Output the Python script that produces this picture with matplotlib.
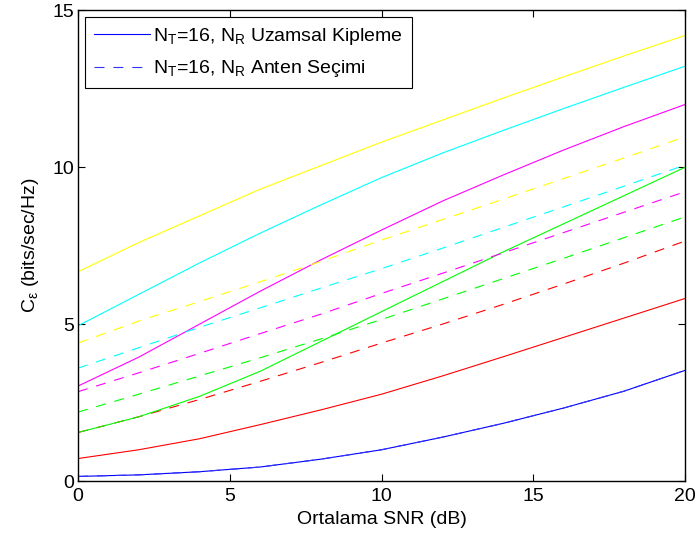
import matplotlib
matplotlib.use('Agg')
import matplotlib.pyplot as plt

plt.rcParams['font.family'] = ['Liberation Sans', 'DejaVu Sans']
plt.rcParams['mathtext.fontset'] = 'custom'
plt.rcParams['mathtext.rm'] = 'Liberation Sans'
plt.rcParams['mathtext.it'] = 'Liberation Sans'

snr = [0, 2, 4, 6, 8, 10, 12, 14, 16, 18, 20]

# Uzamsal Kipleme (duz cizgi)
sm_blue = [0.15, 0.2, 0.3, 0.45, 0.7, 1.0, 1.4, 1.84, 2.33, 2.87, 3.53]
sm_red = [0.72, 1.0, 1.35, 1.8, 2.27, 2.77, 3.35, 3.96, 4.58, 5.2, 5.82]
sm_green = [1.55, 2.05, 2.7, 3.5, 4.45, 5.4, 6.35, 7.3, 8.2, 9.1, 10.0]
sm_magenta = [3.03, 3.95, 5.0, 6.05, 7.05, 8.0, 8.92, 9.75, 10.55, 11.3, 12.0]
sm_cyan = [4.95, 5.95, 6.95, 7.9, 8.8, 9.67, 10.45, 11.17, 11.87, 12.55, 13.22]
sm_yellow = [6.67, 7.6, 8.45, 9.3, 10.05, 10.8, 11.5, 12.2, 12.88, 13.55, 14.2]

# Anten Secimi (kesikli cizgi)
as_blue = [0.15, 0.2, 0.3, 0.45, 0.7, 1.0, 1.4, 1.84, 2.33, 2.87, 3.53]
as_red = [1.55, 2.05, 2.6, 3.18, 3.78, 4.4, 5.0, 5.63, 6.28, 6.95, 7.65]
as_green = [2.2, 2.77, 3.35, 3.93, 4.53, 5.15, 5.8, 6.45, 7.1, 7.76, 8.42]
as_magenta = [2.85, 3.45, 4.07, 4.7, 5.32, 5.98, 6.62, 7.27, 7.92, 8.57, 9.22]
as_cyan = [3.6, 4.25, 4.9, 5.52, 6.15, 6.77, 7.42, 8.08, 8.74, 9.4, 10.07]
as_yellow = [4.4, 5.1, 5.72, 6.35, 7.0, 7.68, 8.33, 8.98, 9.64, 10.3, 10.97]

fig = plt.figure(figsize=(6.97, 5.4), dpi=100)
ax = fig.add_axes([0.112, 0.109, 0.871, 0.872])

lw = 0.8
dash = (9, 8)
ax.plot(snr, sm_blue, '-', color='#0000ff', lw=lw,
        label=r'N$_{\mathrm{T}}$=16, N$_{\mathrm{R}}$ Uzamsal Kipleme')
ax.plot(snr, as_blue, '--', color='#3333ff', lw=lw, dashes=dash,
        label=r'N$_{\mathrm{T}}$=16, N$_{\mathrm{R}}$ Anten Seçimi')
ax.plot(snr, sm_red, '-', color='#ff0000', lw=lw)
ax.plot(snr, as_red, '--', color='#ff0000', lw=lw, dashes=dash)
ax.plot(snr, sm_green, '-', color='#00ff00', lw=lw)
ax.plot(snr, as_green, '--', color='#00ff00', lw=lw, dashes=dash)
ax.plot(snr, sm_magenta, '-', color='#ff00ff', lw=lw)
ax.plot(snr, as_magenta, '--', color='#ff00ff', lw=lw, dashes=dash)
ax.plot(snr, sm_cyan, '-', color='#00ffff', lw=lw)
ax.plot(snr, as_cyan, '--', color='#00ffff', lw=lw, dashes=dash)
ax.plot(snr, sm_yellow, '-', color='#ffff00', lw=lw)
ax.plot(snr, as_yellow, '--', color='#ffff00', lw=lw, dashes=dash)

ax.set_xlim(0, 20)
ax.set_ylim(0, 15)
ax.set_xticks([0, 5, 10, 15, 20])
ax.set_yticks([0, 5, 10, 15])
ax.tick_params(direction='in', top=True, right=True, labelsize=14, length=5, pad=3)
ax.tick_params(axis='x', pad=5)
for s in ax.spines.values():
    s.set_linewidth(1.0)

ax.set_xlabel('Ortalama SNR (dB)', fontsize=14, labelpad=4)
ax.set_ylabel(r'C$_{\epsilon}$ (bits/sec/Hz)', fontsize=14, labelpad=8)

leg = ax.legend(loc='upper left', fontsize=14, fancybox=False, framealpha=1,
                edgecolor='black', handlelength=2.9, handletextpad=0.15,
                borderaxespad=0.35, labelspacing=0.6, borderpad=0.45)
leg.get_frame().set_linewidth(0.8)

plt.savefig('out.png', dpi=100)
